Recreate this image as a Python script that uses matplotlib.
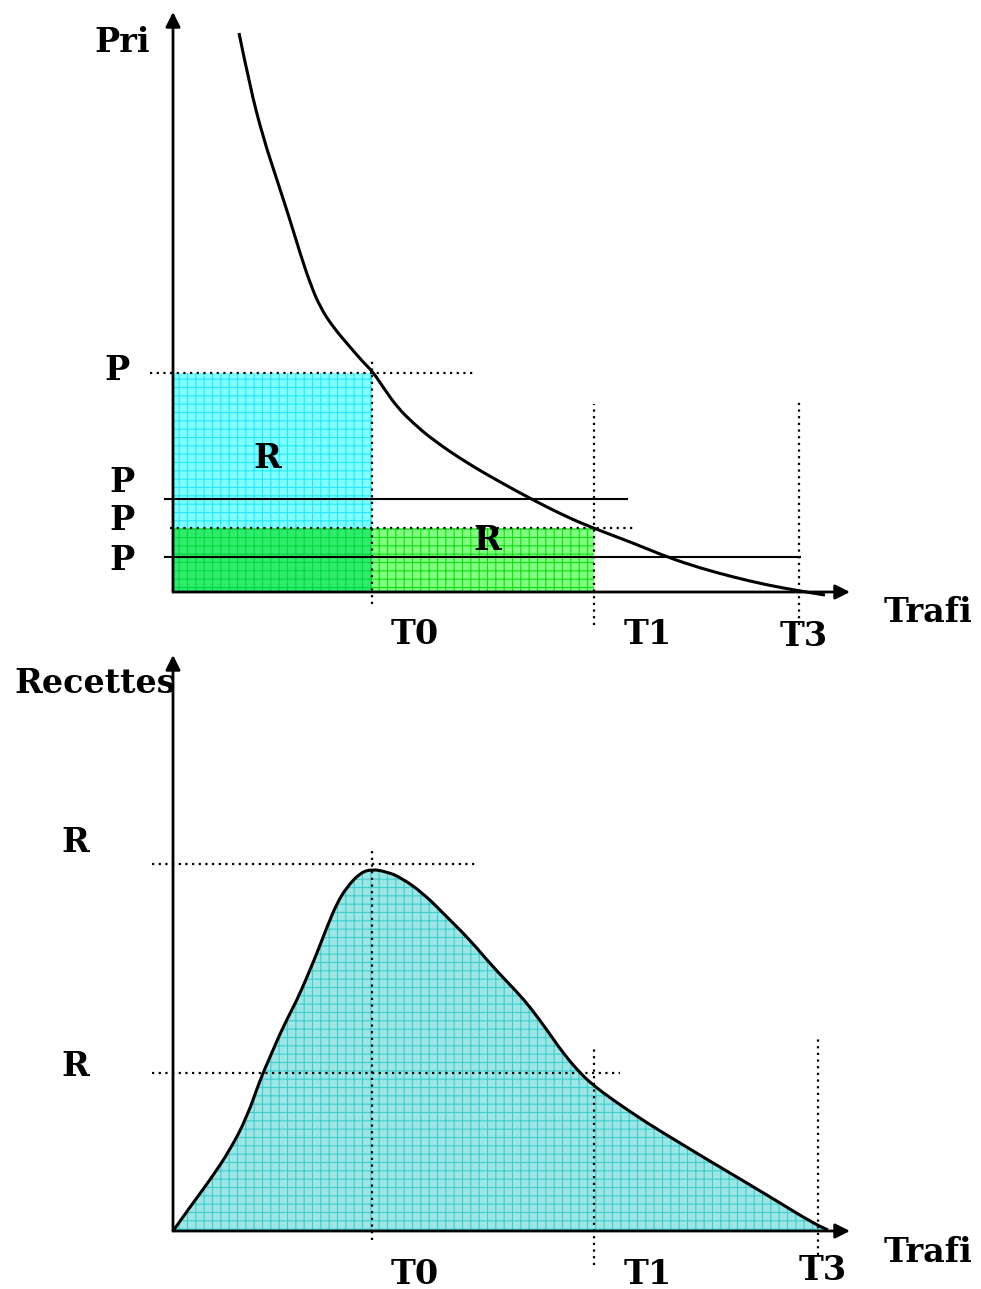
import matplotlib.pyplot as plt
from matplotlib.patches import Rectangle, PathPatch
from matplotlib.path import Path

plt.rcParams['font.family'] = ['DejaVu Serif']
plt.rcParams['hatch.linewidth'] = 0.8

# ---- données (unités arbitraires, origine = (0, 0)) ----
# panneau du haut : courbe de demande prix / trafic
demande_x = [66, 77, 90, 104, 117, 127, 137, 147, 160, 177, 190, 200, 210, 224, 240,
             260, 294, 327, 360, 394, 420, 460, 494, 527, 560, 594, 627, 652]
demande_y = [559, 505, 455, 412, 372, 339, 309, 285, 265, 245, 230, 220, 205, 185, 169,
             152, 129, 110, 92, 75, 64, 49, 35, 24, 15, 7, 1, -3]

T_haut = {'T0': 199, 'T1': 421, 'T3': 626}
P_niveaux = [219, 93, 64, 35]          # P0, P1, P2, P3

# panneau du bas : recettes / trafic
recettes_x = [0, 17, 37, 57, 74, 87, 97, 110, 124, 134, 144, 154, 164, 174, 187, 199,
              214, 227, 250, 274, 297, 320, 344, 357, 374, 390, 407, 420, 440, 474,
              507, 540, 574, 607, 640, 655]
recettes_y = [0, 24, 51, 81, 114, 151, 174, 204, 231, 254, 278, 304, 328, 344, 358, 362,
              359, 354, 338, 314, 291, 264, 239, 224, 201, 178, 158, 146, 131, 108,
              88, 68, 48, 28, 8, 1]

T_bas = {'T0': 199, 'T1': 421, 'T3': 645}
R_niveaux = [367, 158]


def courbe_lisse(xs, ys):
    # chemin quadratique passant par les milieux des points relevés
    pts = list(zip(xs, ys))
    verts = [pts[0]]
    codes = [Path.MOVETO]
    for i in range(1, len(pts) - 1):
        mid = ((pts[i][0] + pts[i + 1][0]) / 2, (pts[i][1] + pts[i + 1][1]) / 2)
        verts += [pts[i], mid]
        codes += [Path.CURVE3, Path.CURVE3]
    verts.append(pts[-1])
    codes.append(Path.LINETO)
    return Path(verts, codes)


fig = plt.figure(figsize=(9.81, 12.89), dpi=100)
ax1 = fig.add_axes([0, 629 / 1289, 1, 660 / 1289])
ax2 = fig.add_axes([0, 0, 1, 644 / 1289])
ax1.set_xlim(-173, 808)
ax1.set_ylim(-68, 592)
ax2.set_xlim(-173, 808)
ax2.set_ylim(-58, 586)
for ax in (ax1, ax2):
    ax.axis('off')

pointille = dict(color='black', lw=1.6, linestyle=(0, (1, 2)))
txt = dict(fontsize=24, fontweight='bold', ha='center', va='center')


def fleches(ax, xmax, ymax):
    ax.annotate('', xy=(xmax, 0), xytext=(0, 0),
                arrowprops=dict(arrowstyle='-|>', lw=2, color='black', mutation_scale=22,
                                shrinkA=0, shrinkB=0))
    ax.annotate('', xy=(0, ymax), xytext=(0, 0),
                arrowprops=dict(arrowstyle='-|>', lw=2, color='black', mutation_scale=22,
                                shrinkA=0, shrinkB=0))


# ---- panneau du haut ----
ax1.add_patch(Rectangle((0, 0), T_haut['T0'], P_niveaux[0], facecolor='#80ffff',
                        edgecolor='#20e8ff', hatch='++', lw=0))
ax1.add_patch(Rectangle((0, 0), T_haut['T1'], P_niveaux[2], facecolor='#80ff80',
                        edgecolor='#10e010', hatch='++', lw=0))
ax1.add_patch(Rectangle((0, 0), T_haut['T0'], P_niveaux[2], facecolor='#30ea6c',
                        edgecolor='#00d840', hatch='++', lw=0))

ax1.plot([-23, 300], [P_niveaux[0]] * 2, **pointille)
ax1.plot([-3, 463], [P_niveaux[2]] * 2, **pointille)
ax1.plot([-8, 454], [P_niveaux[1]] * 2, color='black', lw=1.5)
ax1.plot([-8, 627], [P_niveaux[3]] * 2, color='black', lw=1.5)
ax1.plot([T_haut['T0']] * 2, [-12, 232], **pointille)
ax1.plot([T_haut['T1']] * 2, [-33, 188], **pointille)
ax1.plot([T_haut['T3']] * 2, [-33, 190], **pointille)

ax1.add_patch(PathPatch(courbe_lisse(demande_x, demande_y), fill=False,
                        edgecolor='black', lw=2.2))
fleches(ax1, 677, 580)

ax1.text(-51, 550, 'Pri', **txt)
ax1.text(-56, 221, 'P', **txt)
ax1.text(-51, 109, 'P', **txt)
ax1.text(-51, 71, 'P', **txt)
ax1.text(-51, 32, 'P', **txt)
ax1.text(94, 133, 'R', **txt)
ax1.text(314, 51, 'R', **txt)
ax1.text(242, -43, 'T0', **txt)
ax1.text(475, -42, 'T1', **txt)
ax1.text(631, -45, 'T3', **txt)
ax1.text(755, -20, 'Trafi', **txt)

# ---- panneau du bas ----
ax2.fill_between(recettes_x, recettes_y, 0, facecolor='#9ee6e6', edgecolor='#3ccfcf',
                 hatch='++', lw=0)
ax2.add_patch(PathPatch(courbe_lisse(recettes_x, recettes_y), fill=False,
                        edgecolor='black', lw=2.2))
ax2.plot([-21, 303], [R_niveaux[0]] * 2, **pointille)
ax2.plot([-21, 447], [R_niveaux[1]] * 2, **pointille)
ax2.plot([T_bas['T0']] * 2, [-9, 383], **pointille)
ax2.plot([T_bas['T1']] * 2, [-34, 186], **pointille)
ax2.plot([T_bas['T3']] * 2, [-24, 196], **pointille)
fleches(ax2, 677, 576)

ax2.text(-78, 548, 'Recettes', **txt)
ax2.text(-98, 388, 'R', **txt)
ax2.text(-98, 164, 'R', **txt)
ax2.text(242, -44, 'T0', **txt)
ax2.text(475, -44, 'T1', **txt)
ax2.text(650, -40, 'T3', **txt)
ax2.text(755, -21, 'Trafi', **txt)

fig.savefig('out.png', dpi=100)
